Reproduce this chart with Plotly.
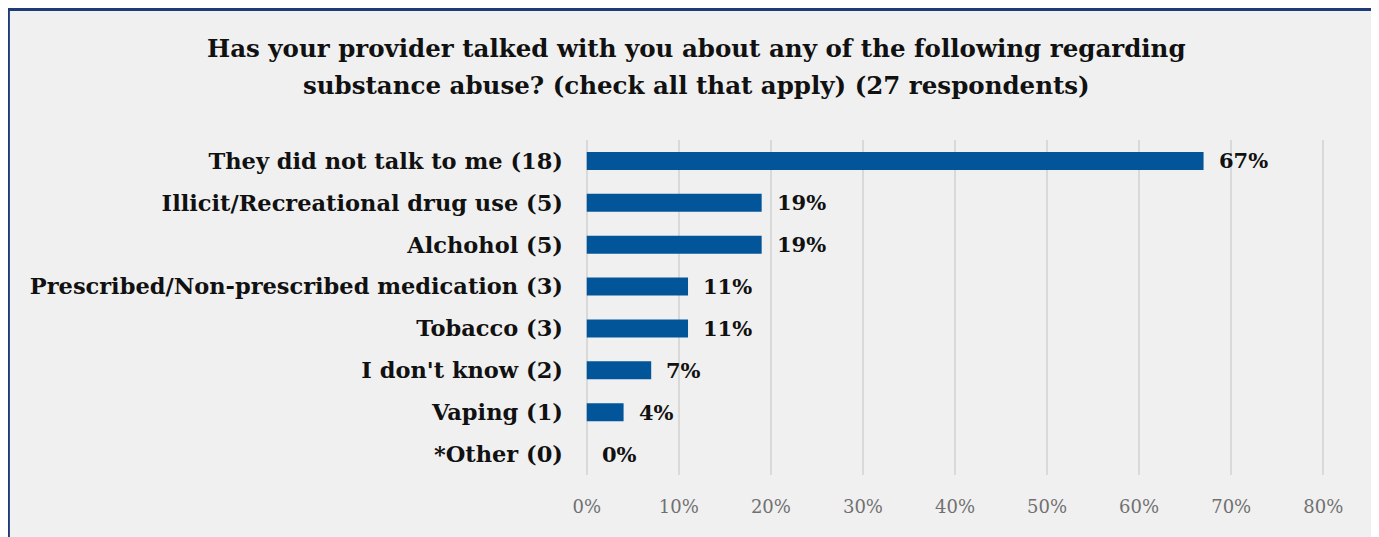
import plotly.graph_objects as go

categories = [
    "They did not talk to me (18)",
    "Illicit/Recreational drug use (5)",
    "Alchohol (5)",
    "Prescribed/Non-prescribed medication (3)",
    "Tobacco (3)",
    "I don't know (2)",
    "Vaping (1)",
    "*Other (0)",
]
values = [0.67, 0.19, 0.19, 0.11, 0.11, 0.07, 0.04, 0.0]
value_labels = ["67%", "19%", "19%", "11%", "11%", "7%", "4%", "0%"]
x_ticks = [0, 0.1, 0.2, 0.3, 0.4, 0.5, 0.6, 0.7, 0.8]
x_tick_labels = ["0%", "10%", "20%", "30%", "40%", "50%", "60%", "70%", "80%"]
title_lines = [
    "Has your provider talked with you about any of the following regarding",
    "substance abuse? (check all that apply) (27 respondents)",
]

FONT = "DejaVu Serif"
OFF = 8  # page body margin
EPS = 0.003  # small range padding so the 0% and 80% gridlines are drawn
X0_PAGE, X80_PAGE = 587, 1323
unit = (X80_PAGE - X0_PAGE) / 0.8  # pixels per 1.0
W, H = 1379 - OFF, 537 - OFF
L = X0_PAGE - OFF - EPS * unit
R = (1379 - X80_PAGE) - EPS * unit
T, B = 140 - OFF, 537 - 475
pw, ph = W - L - R, H - T - B

def px(p):  # page pixel -> paper x
    return (p - OFF - L) / pw

def py(p):  # page pixel -> paper y
    return (H - B - (p - OFF)) / ph

fig = go.Figure()
fig.add_trace(go.Bar(
    x=values, y=categories, orientation="h",
    marker=dict(color="#03559A", line=dict(width=0)),
    hoverinfo="x+y",
))

annotations = []
for c, v, t in zip(categories, values, value_labels):
    annotations.append(dict(
        x=v, y=c, xref="x", yref="y", text="<b>" + t + "</b>",
        showarrow=False, xanchor="left", yanchor="middle", xshift=13,
        font=dict(family=FONT, size=21, color="#111111"),
    ))
for i, line in enumerate(title_lines):
    annotations.append(dict(
        x=px(697), y=py(48 + 37 * i), xref="paper", yref="paper",
        text="<b>" + line + "</b>", showarrow=False,
        xanchor="center", yanchor="middle",
        font=dict(family=FONT, size=24.5, color="#111111"),
    ))

fig.update_layout(
    width=W, height=H,
    margin=dict(l=L, r=R, t=T, b=B, pad=0),
    paper_bgcolor="white",
    plot_bgcolor="rgba(0,0,0,0)",
    showlegend=False,
    bargap=0.57,
    annotations=annotations,
    shapes=[dict(
        type="rect", xref="paper", yref="paper",
        x0=px(9), x1=px(1377), y0=py(560), y1=py(9.5),
        fillcolor="#F0F0F0", line=dict(color="#1F3A78", width=3),
        layer="below",
    )],
    xaxis=dict(
        range=[-EPS, 0.8 + EPS], tickvals=x_ticks, ticktext=x_tick_labels,
        showgrid=True, gridcolor="#D9D9D9", gridwidth=2,
        zeroline=False, showline=False,
        tickfont=dict(family=FONT, size=18, color="#707070"),
        ticklabelstandoff=19, fixedrange=True,
    ),
    yaxis=dict(
        categoryorder="array", categoryarray=categories,
        autorange="reversed", showgrid=False, zeroline=False,
        tickfont=dict(family=FONT, size=22.5, color="#111111", weight="bold"),
        ticklabelstandoff=20, fixedrange=True,
    ),
)

fig.write_html("out.html")
